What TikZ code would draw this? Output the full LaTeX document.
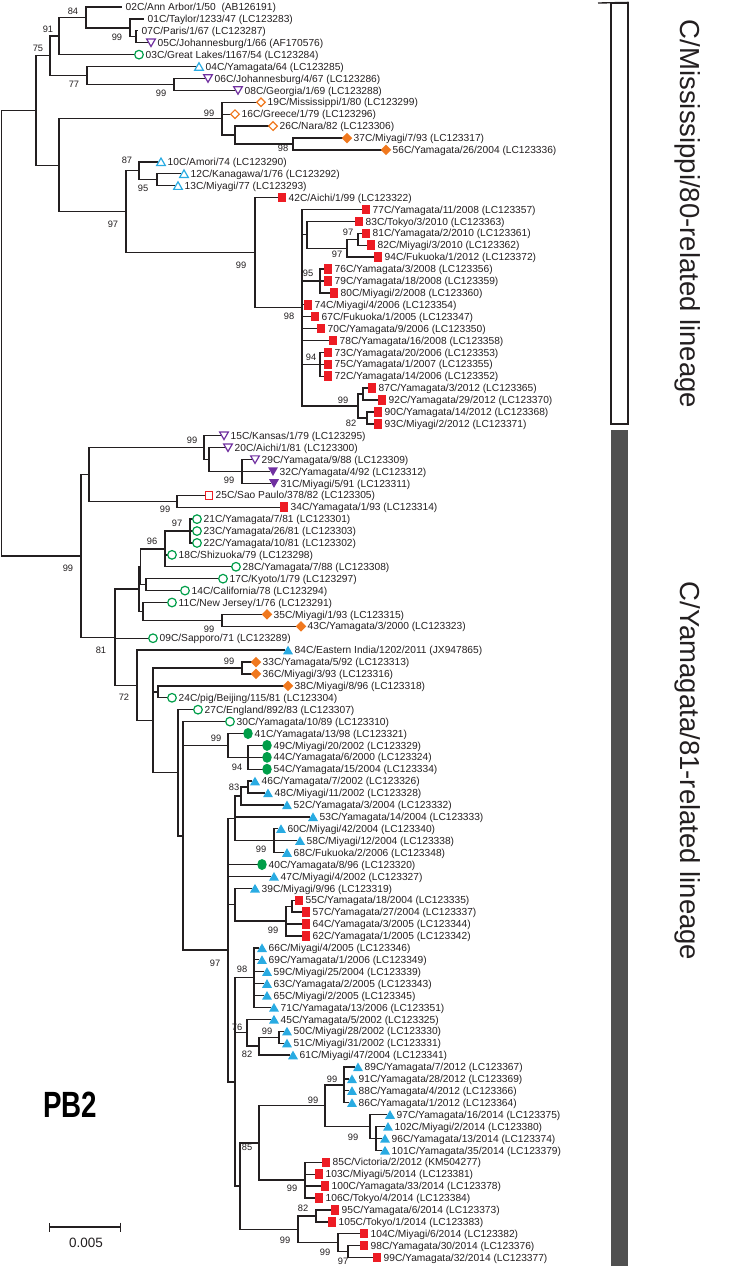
\documentclass[tikz,border=0pt]{standalone}
\usepackage{fontspec}
\setmainfont{Liberation Sans}
\usetikzlibrary{arrows.meta, positioning, calc, shapes.geometric}

\definecolor{cgreen}{RGB}{0,158,73}
\definecolor{cblue}{RGB}{41,171,226}
\definecolor{cpurple}{RGB}{112,48,160}
\definecolor{corange}{RGB}{240,120,30}
\definecolor{cred}{RGB}{237,28,36}
\definecolor{cgray}{RGB}{80,80,80}
\definecolor{cline}{RGB}{35,31,32}

\pgfdeclarelayer{bg}
\pgfsetlayers{bg,main}

\tikzset{
  br/.style={draw=cline, line width=1.35pt},
  lab/.style={anchor=west, inner sep=0pt, text height=7.3pt, text depth=0pt,
    text=cline, font=\fontsize{10.2}{12}\selectfont},
  bs/.style={inner sep=0pt, text=cline, font=\fontsize{9.3}{11}\selectfont},
  mk/.style={inner sep=0pt, outer sep=0pt, line width=1.2pt},
  ocirc/.style={mk, circle, draw=cgreen, minimum size=8.6pt},
  fcirc/.style={mk, ellipse, fill=cgreen, minimum width=9.5pt, minimum height=11pt},
  otri/.style={mk, regular polygon, regular polygon sides=3, draw=cblue, minimum size=10pt, yshift=-1.2pt},
  ftri/.style={mk, regular polygon, regular polygon sides=3, fill=cblue, minimum size=11.5pt, yshift=-1.3pt},
  oinv/.style={mk, regular polygon, regular polygon sides=3, shape border rotate=180, draw=cpurple, minimum size=10pt, yshift=1.2pt},
  finv/.style={mk, regular polygon, regular polygon sides=3, shape border rotate=180, fill=cpurple, minimum size=11.5pt, yshift=1.3pt},
  odia/.style={mk, diamond, draw=corange, minimum size=8.6pt},
  fdia/.style={mk, diamond, fill=corange, minimum size=10.5pt},
  fsq/.style={mk, rectangle, fill=cred, minimum width=8.3pt, minimum height=9.5pt},
  osq/.style={mk, rectangle, draw=cred, minimum width=7.2pt, minimum height=8.2pt},
  lin/.style={rotate=-90, inner sep=0pt, text=cline, font=\fontsize{27.5}{30}\selectfont}
}

% leaf with marker: [gap]{name}{row}{marker x}{marker style}{label}
\newcommand{\tip}[6][4.5]{%
  \coordinate (#2) at ({#4-#1},{7+(#3-1)*11.91});
  \node[#5] (#2m) at (#4,{7+(#3-1)*11.91}) {};
  \node[lab] (#2t) at ({#4+6.5},{7+(#3-1)*11.91}) {#6};
}
% leaf without marker: {name}{row}{tip x}{label}
\newcommand{\ntip}[4]{%
  \coordinate (#1) at (#3,{7+(#2-1)*11.91});
  \node[lab] (#1t) at ({#3+3.5},{7+(#2-1)*11.91}) {#4};
}
% branch point halfway between first and last child
\newcommand{\bnode}[4]{\path let \p1=(#3), \p2=(#4) in coordinate (#1) at (#2pt,{0.5*(\y1+\y2)});}
\newcommand{\kids}[2]{\draw[br] foreach \ch in {#2}{(#1) |- (\ch)};}

\begin{document}
\begin{tikzpicture}[x=1pt, y=-1pt]
\useasboundingbox (0,0) rectangle (750,1269);

% C/Mississippi/80-related leaves
\ntip{l02}{1}{122}{02C/Ann Arbor/1/50~~(AB126191)}
\ntip{l01}{2}{144}{01C/Taylor/1233/47 (LC123283)}
\ntip{l07}{3}{138}{07C/Paris/1/67 (LC123287)}
\tip[3]{l05}{4}{151}{oinv}{05C/Johannesburg/1/66 (AF170576)}
\tip{l03}{5}{139}{ocirc}{03C/Great Lakes/1167/54 (LC123284)}
\tip[3]{l04}{6}{199}{otri}{04C/Yamagata/64 (LC123285)}
\tip[3]{l06}{7}{208}{oinv}{06C/Johannesburg/4/67 (LC123286)}
\tip[3]{l08}{8}{238}{oinv}{08C/Georgia/1/69 (LC123288)}
\tip{l19}{9}{261}{odia}{19C/Mississippi/1/80 (LC123299)}
\tip{l16}{10}{235}{odia}{16C/Greece/1/79 (LC123296)}
\tip{l26}{11}{273}{odia}{26C/Nara/82 (LC123306)}
\tip{l37}{12}{347}{fdia}{37C/Miyagi/7/93 (LC123317)}
\tip{l56}{13}{386}{fdia}{56C/Yamagata/26/2004 (LC123336)}
\tip[3]{l10}{14}{161}{otri}{10C/Amori/74 (LC123290)}
\tip[3]{l12}{15}{184}{otri}{12C/Kanagawa/1/76 (LC123292)}
\tip[3]{l13}{16}{178}{otri}{13C/Miyagi/77 (LC123293)}
\tip{l42}{17}{282}{fsq}{42C/Aichi/1/99 (LC123322)}
\tip{l77}{18}{366}{fsq}{77C/Yamagata/11/2008 (LC123357)}
\tip{l83}{19}{359}{fsq}{83C/Tokyo/3/2010 (LC123363)}
\tip{l81}{20}{366}{fsq}{81C/Yamagata/2/2010 (LC123361)}
\tip{l82}{21}{371}{fsq}{82C/Miyagi/3/2010 (LC123362)}
\tip{l94}{22}{378}{fsq}{94C/Fukuoka/1/2012 (LC123372)}
\tip{l76}{23}{328}{fsq}{76C/Yamagata/3/2008 (LC123356)}
\tip{l79}{24}{328}{fsq}{79C/Yamagata/18/2008 (LC123359)}
\tip{l80}{25}{334}{fsq}{80C/Miyagi/2/2008 (LC123360)}
\tip{l74}{26}{308}{fsq}{74C/Miyagi/4/2006 (LC123354)}
\tip{l67}{27}{315}{fsq}{67C/Fukuoka/1/2005 (LC123347)}
\tip{l70}{28}{321}{fsq}{70C/Yamagata/9/2006 (LC123350)}
\tip{l78}{29}{333}{fsq}{78C/Yamagata/16/2008 (LC123358)}
\tip{l73}{30}{328}{fsq}{73C/Yamagata/20/2006 (LC123353)}
\tip{l75}{31}{328}{fsq}{75C/Yamagata/1/2007 (LC123355)}
\tip{l72}{32}{328}{fsq}{72C/Yamagata/14/2006 (LC123352)}
\tip{l87}{33}{372}{fsq}{87C/Yamagata/3/2012 (LC123365)}
\tip{l92}{34}{382}{fsq}{92C/Yamagata/29/2012 (LC123370)}
\tip{l90}{35}{378}{fsq}{90C/Yamagata/14/2012 (LC123368)}
\tip{l93}{36}{378}{fsq}{93C/Miyagi/2/2012 (LC123371)}

% C/Yamagata/81-related leaves
\tip[3]{l15}{37}{224}{oinv}{15C/Kansas/1/79 (LC123295)}
\tip[3]{l20}{38}{228}{oinv}{20C/Aichi/1/81 (LC123300)}
\tip[3]{l29}{39}{255}{oinv}{29C/Yamagata/9/88 (LC123309)}
\tip[3]{l32}{40}{273}{finv}{32C/Yamagata/4/92 (LC123312)}
\tip[3]{l31}{41}{274}{finv}{31C/Miyagi/5/91 (LC123311)}
\tip{l25}{42}{209}{osq}{25C/Sao Paulo/378/82 (LC123305)}
\tip{l34}{43}{284}{fsq}{34C/Yamagata/1/93 (LC123314)}
\tip{l21}{44}{197}{ocirc}{21C/Yamagata/7/81 (LC123301)}
\tip{l23}{45}{197}{ocirc}{23C/Yamagata/26/81 (LC123303)}
\tip{l22}{46}{197}{ocirc}{22C/Yamagata/10/81 (LC123302)}
\tip{l18}{47}{172}{ocirc}{18C/Shizuoka/79 (LC123298)}
\tip{l28}{48}{236}{ocirc}{28C/Yamagata/7/88 (LC123308)}
\tip{l17}{49}{223}{ocirc}{17C/Kyoto/1/79 (LC123297)}
\tip{l14}{50}{185}{ocirc}{14C/California/78 (LC123294)}
\tip{l11}{51}{172}{ocirc}{11C/New Jersey/1/76 (LC123291)}
\tip{l35}{52}{267}{fdia}{35C/Miyagi/1/93 (LC123315)}
\tip{l43}{53}{301}{fdia}{43C/Yamagata/3/2000 (LC123323)}
\tip{l09}{54}{153}{ocirc}{09C/Sapporo/71 (LC123289)}
\tip[3]{l84}{55}{288}{ftri}{84C/Eastern India/1202/2011 (JX947865)}
\tip{l33}{56}{256}{fdia}{33C/Yamagata/5/92 (LC123313)}
\tip{l36}{57}{256}{fdia}{36C/Miyagi/3/93 (LC123316)}
\tip{l38}{58}{288}{fdia}{38C/Miyagi/8/96 (LC123318)}
\tip{l24}{59}{172}{ocirc}{24C/pig/Beijing/115/81 (LC123304)}
\tip{l27}{60}{198}{ocirc}{27C/England/892/83 (LC123307)}
\tip{l30}{61}{230}{ocirc}{30C/Yamagata/10/89 (LC123310)}
\tip{l41}{62}{248}{fcirc}{41C/Yamagata/13/98 (LC123321)}
\tip{l49}{63}{267}{fcirc}{49C/Miyagi/20/2002 (LC123329)}
\tip{l44}{64}{267}{fcirc}{44C/Yamagata/6/2000 (LC123324)}
\tip{l54}{65}{267}{fcirc}{54C/Yamagata/15/2004 (LC123334)}
\tip[3]{l46}{66}{255}{ftri}{46C/Yamagata/7/2002 (LC123326)}
\tip[3]{l48}{67}{268}{ftri}{48C/Miyagi/11/2002 (LC123328)}
\tip[3]{l52}{68}{287}{ftri}{52C/Yamagata/3/2004 (LC123332)}
\tip[3]{l53}{69}{313}{ftri}{53C/Yamagata/14/2004 (LC123333)}
\tip[3]{l60}{70}{281}{ftri}{60C/Miyagi/42/2004 (LC123340)}
\tip[3]{l58}{71}{300}{ftri}{58C/Miyagi/12/2004 (LC123338)}
\tip[3]{l68}{72}{287}{ftri}{68C/Fukuoka/2/2006 (LC123348)}
\tip{l40}{73}{262}{fcirc}{40C/Yamagata/8/96 (LC123320)}
\tip[3]{l47}{74}{274}{ftri}{47C/Miyagi/4/2002 (LC123327)}
\tip[3]{l39}{75}{255}{ftri}{39C/Miyagi/9/96 (LC123319)}
\tip{l55}{76}{299}{fsq}{55C/Yamagata/18/2004 (LC123335)}
\tip{l57}{77}{306}{fsq}{57C/Yamagata/27/2004 (LC123337)}
\tip{l64}{78}{306}{fsq}{64C/Yamagata/3/2005 (LC123344)}
\tip{l62}{79}{306}{fsq}{62C/Yamagata/1/2005 (LC123342)}
\tip[3]{l66}{80}{262}{ftri}{66C/Miyagi/4/2005 (LC123346)}
\tip[3]{l69}{81}{262}{ftri}{69C/Yamagata/1/2006 (LC123349)}
\tip[3]{l59}{82}{267}{ftri}{59C/Miyagi/25/2004 (LC123339)}
\tip[3]{l63}{83}{267}{ftri}{63C/Yamagata/2/2005 (LC123343)}
\tip[3]{l65}{84}{267}{ftri}{65C/Miyagi/2/2005 (LC123345)}
\tip[3]{l71}{85}{274}{ftri}{71C/Yamagata/13/2006 (LC123351)}
\tip[3]{l45}{86}{274}{ftri}{45C/Yamagata/5/2002 (LC123325)}
\tip[3]{l50}{87}{287}{ftri}{50C/Miyagi/28/2002 (LC123330)}
\tip[3]{l51}{88}{287}{ftri}{51C/Miyagi/31/2002 (LC123331)}
\tip[3]{l61}{89}{293}{ftri}{61C/Miyagi/47/2004 (LC123341)}
\tip[3]{l89}{90}{358}{ftri}{89C/Yamagata/7/2012 (LC123367)}
\tip[3]{l91}{91}{352}{ftri}{91C/Yamagata/28/2012 (LC123369)}
\tip[3]{l88}{92}{352}{ftri}{88C/Yamagata/4/2012 (LC123366)}
\tip[3]{l86}{93}{352}{ftri}{86C/Yamagata/1/2012 (LC123364)}
\tip[3]{l97}{94}{390}{ftri}{97C/Yamagata/16/2014 (LC123375)}
\tip[3]{l102}{95}{388}{ftri}{102C/Miyagi/2/2014 (LC123380)}
\tip[3]{l96}{96}{385}{ftri}{96C/Yamagata/13/2014 (LC123374)}
\tip[3]{l101}{97}{385}{ftri}{101C/Yamagata/35/2014 (LC123379)}
\tip{l85}{98}{326}{fsq}{85C/Victoria/2/2012 (KM504277)}
\tip{l103}{99}{319}{fsq}{103C/Miyagi/5/2014 (LC123381)}
\tip{l100}{100}{325}{fsq}{100C/Yamagata/33/2014 (LC123378)}
\tip{l106}{101}{319}{fsq}{106C/Tokyo/4/2014 (LC123384)}
\tip{l95}{102}{335}{fsq}{95C/Yamagata/6/2014 (LC123373)}
\tip{l105}{103}{332}{fsq}{105C/Tokyo/1/2014 (LC123383)}
\tip{l104}{104}{364}{fsq}{104C/Miyagi/6/2014 (LC123382)}
\tip{l98}{105}{364}{fsq}{98C/Yamagata/30/2014 (LC123376)}
\tip{l99}{106}{377}{fsq}{99C/Yamagata/32/2014 (LC123377)}

% branch points, upper lineage
\bnode{n136}{136}{l07}{l05}
\bnode{n130}{130}{l01}{n136}
\bnode{n84}{86}{l02}{n130}
\bnode{n91}{59}{n84}{l03}
\bnode{n174}{174}{l06}{l08}
\bnode{n77}{87}{l04}{n174}
\bnode{n75}{50}{n91}{n77}
\bnode{n293}{293}{l37}{l56}
\bnode{n235}{235}{l26}{n293}
\bnode{n222}{222}{l19}{n235}
\bnode{n157}{157}{l12}{l13}
\bnode{n139}{139}{l10}{n157}
\bnode{n358a}{358}{l81}{l82}
\bnode{n347}{347}{n358a}{l94}
\bnode{n307}{307}{l83}{n347}
\bnode{n320a}{320}{l76}{l80}
\bnode{n320b}{320}{l73}{l72}
\bnode{n363}{363}{l87}{l92}
\bnode{n367}{367}{l90}{l93}
\bnode{n358}{358}{n363}{n367}
\bnode{n302}{302}{l77}{n358}
\bnode{n255}{255}{l42}{n302}
\bnode{n126}{126}{n139}{n255}
\bnode{nMid}{59}{n222}{n126}
\bnode{nTop}{36}{n75}{nMid}

% branch points, lower lineage
\bnode{n242a}{242}{l29}{l31}
\bnode{n209}{209}{l20}{n242a}
\bnode{n204}{204}{l15}{n209}
\bnode{n177}{177}{l25}{l34}
\bnode{n89}{89}{n204}{n177}
\bnode{n190}{190}{l21}{l22}
\bnode{n165}{165}{n190}{l28}
\bnode{n146}{146}{l17}{l14}
\bnode{nQ}{140.5}{n165}{n146}
\bnode{n222b}{222}{l35}{l43}
\bnode{n143}{143}{l11}{n222b}
\bnode{nP}{139}{nQ}{n143}
\bnode{n242b}{242}{l33}{l36}
\bnode{n158}{158}{l38}{l24}
\bnode{n248a}{248}{l49}{l54}
\bnode{n228a}{228}{l41}{n248a}
\bnode{n248b}{248}{l46}{l48}
\bnode{n241}{241}{n248b}{l52}
\bnode{n274}{274}{l60}{l68}
\bnode{n235a}{235}{n241}{n274}
\bnode{n292}{292}{l55}{l57}
\bnode{n286}{286}{n292}{l62}
\bnode{n235b}{235}{l39}{n286}
\bnode{n254}{254}{l66}{l71}
\bnode{n280}{279}{l50}{l51}
\bnode{n259a}{259}{n280}{l61}
\bnode{n247}{247}{l45}{n259a}
\bnode{n344}{344}{l89}{l86}
\bnode{n376}{376}{l102}{l101}
\bnode{n370}{370}{l97}{n376}
\bnode{n325}{325}{n344}{n370}
\bnode{n305}{305}{l85}{l106}
\bnode{n259b}{259}{n325}{n305}
\bnode{n316}{316}{l95}{l105}
\bnode{n348}{348}{l98}{l99}
\bnode{n338}{338}{l104}{n348}
\bnode{n298}{298}{n316}{n338}
\bnode{n240}{240}{n259b}{n298}
\bnode{n235c}{235}{n254}{n240}
\bnode{n228b}{228}{n235a}{n235c}
\bnode{n183}{183}{l30}{n228b}
\bnode{n178}{178}{l27}{n183}
\bnode{nY}{153}{n242b}{n178}
\bnode{nX}{137}{l84}{nY}
\bnode{n115}{115}{nP}{nX}
\bnode{nBot}{81}{n89}{n115}
\bnode{nRoot}{1.5}{nTop}{nBot}

% branches
\begin{pgfonlayer}{bg}
\kids{n136}{l07,l05}
\kids{n130}{l01,n136}
\kids{n84}{l02,n130}
\kids{n91}{n84,l03}
\kids{n174}{l06,l08}
\kids{n77}{l04,n174}
\kids{n75}{n91,n77}
\kids{n293}{l37,l56}
\kids{n235}{l26,n293}
\kids{n222}{l19,l16,n235}
\kids{n157}{l12,l13}
\kids{n139}{l10,n157}
\kids{n358a}{l81,l82}
\kids{n347}{n358a,l94}
\kids{n307}{l83,n347}
\kids{n320a}{l76,l79,l80}
\kids{n320b}{l73,l75,l72}
\kids{n363}{l87,l92}
\kids{n367}{l90,l93}
\kids{n358}{n363,n367}
\kids{n302}{l77,n307,n320a,l74,l67,l70,l78,n320b,n358}
\kids{n255}{l42,n302}
\kids{n126}{n139,n255}
\kids{nMid}{n222,n126}
\kids{nTop}{n75,nMid}
\kids{n242a}{l29,l32,l31}
\kids{n209}{l20,n242a}
\kids{n204}{l15,n209}
\kids{n177}{l25,l34}
\kids{n89}{n204,n177}
\kids{n190}{l21,l23,l22}
\kids{n165}{n190,l18,l28}
\kids{n146}{l17,l14}
\kids{nQ}{n165,n146}
\kids{n222b}{l35,l43}
\kids{n143}{l11,n222b}
\kids{nP}{nQ,n143}
\kids{n242b}{l33,l36}
\kids{n158}{l38,l24}
\kids{n248a}{l49,l44,l54}
\kids{n228a}{l41,n248a}
\kids{n248b}{l46,l48}
\kids{n241}{n248b,l52}
\kids{n274}{l60,l58,l68}
\kids{n235a}{n241,l53,n274}
\kids{n292}{l55,l57}
\kids{n286}{n292,l64,l62}
\kids{n235b}{l39,n286}
\kids{n254}{l66,l69,l59,l63,l65,l71}
\kids{n280}{l50,l51}
\kids{n259a}{n280,l61}
\kids{n247}{l45,n259a}
\kids{n344}{l89,l91,l88,l86}
\kids{n376}{l102,l96,l101}
\kids{n370}{l97,n376}
\kids{n325}{n344,n370}
\kids{n305}{l85,l103,l100,l106}
\kids{n259b}{n325,n305}
\kids{n316}{l95,l105}
\kids{n348}{l98,l99}
\kids{n338}{l104,n348}
\kids{n298}{n316,n338}
\kids{n240}{n259b,n298}
\kids{n235c}{n254,n247,n240}
\kids{n228b}{n235a,l40,l47,n235b,n235c}
\kids{n183}{l30,n228a,n228b}
\kids{n178}{l27,n183}
\kids{nY}{n242b,n158,n178}
\kids{nX}{l84,nY}
\kids{n115}{nP,l09,nX}
\kids{nBot}{n89,n115}
\kids{nRoot}{nTop,nBot}
\end{pgfonlayer}

% bootstrap values
\foreach \bx/\by/\bv in {73/11/84, 48/29/91, 117/37/99, 38/48/75, 74/84/77,
  161/93/99, 209/113/99, 283/148/98, 127/160/87, 143/188/95, 113/224/97,
  348/232/97, 337/254/97, 241/265/99, 308/273/95, 289/316/98, 311/357/94,
  343/400/99, 351/423/82, 192/440/99, 229/480/99, 165/509/99, 68/568/99,
  177/523/97, 152/541/96, 209/629/99, 101/650/81, 124/697/72, 229/661/99,
  216/738/99, 237/767/94, 234/787/83, 261/849/99, 273/930/99, 215/963/97,
  242/969/98, 237/1027/76, 267/1031/99, 247/1054/82, 332/1079/99,
  313/1100/99, 353/1137/99, 247/1147/85, 292/1188/99, 303/1208/82,
  285/1240/99, 325/1252/99, 343/1261/97}
  \node[bs] (b-\bx-\by) at (\bx,\by) {\bv};

% lineage bars
\node[draw=cline, line width=1.2pt, minimum width=17pt, minimum height=421pt,
  inner sep=0pt] (barA) at (619.5,213.5) {};
\coordinate (barAc) at (598,3);
\draw[br] (barAc) -- (barA.north east);
\node[fill=cgray, minimum width=17pt, minimum height=836pt, inner sep=0pt]
  (barB) at (619.5,848) {};
\node[lin] (linA) at (688,214) {C/Mississippi/80-related lineage};
\node[lin] (linB) at (688,771) {C/Yamagata/81-related lineage};

% segment name and scale
\node[inner sep=0pt, text=black, font=\fontsize{36.5}{40}\selectfont\bfseries]
  (seg) at (70,1105) {\scalebox{0.76}[1]{PB2}};
\coordinate (sbL) at (49,1227);
\coordinate (sbR) at (121,1227);
\draw[br, {Bar[width=9pt]}-{Bar[width=9pt]}] (sbL) -- (sbR);
\node[inner sep=0pt, text=cline, font=\fontsize{13.5}{15}\selectfont]
  (sbT) at (86,1243) {0.005};
\end{tikzpicture}
\end{document}
